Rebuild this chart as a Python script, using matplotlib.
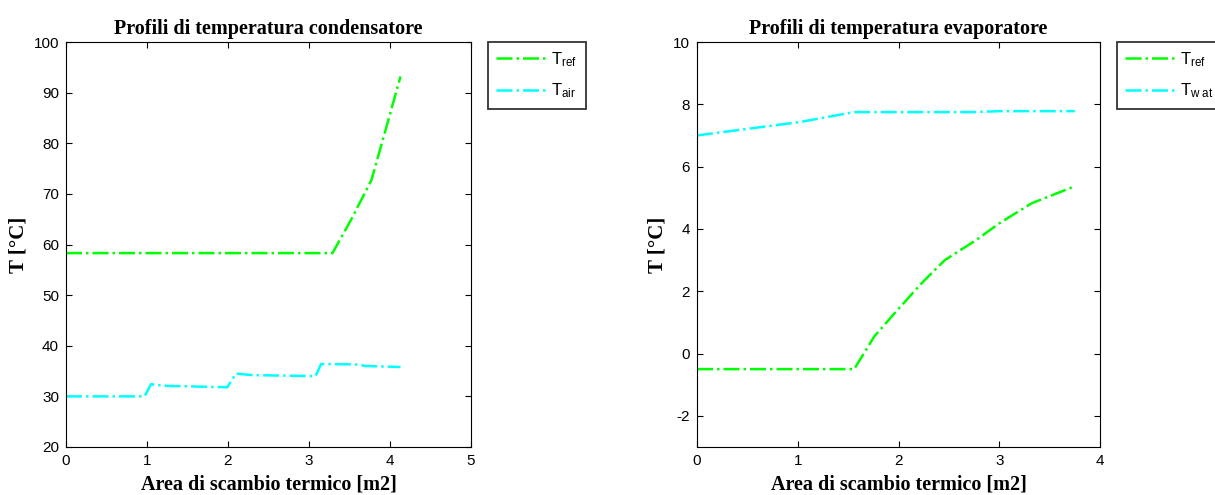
import matplotlib.pyplot as plt

# condensatore
cond_area_ref = [0, 1.0, 2.0, 3.0, 3.29, 3.53, 3.77, 3.91, 4.13]
cond_T_ref = [58.3, 58.3, 58.3, 58.3, 58.3, 65.2, 72.7, 80.6, 93.2]
cond_area_air = [0, 0.97, 1.05, 1.2, 1.99, 2.1, 2.3, 3.08, 3.15, 3.6, 3.7, 4.13]
cond_T_air = [30.0, 30.0, 32.4, 32.1, 31.8, 34.5, 34.2, 34.0, 36.4, 36.3, 36.0, 35.8]

# evaporatore
evap_area_ref = [0, 1.0, 1.56, 1.76, 1.99, 2.23, 2.46, 2.77, 3.0, 3.32, 3.75]
evap_T_ref = [-0.5, -0.5, -0.5, 0.55, 1.4, 2.26, 3.0, 3.64, 4.18, 4.82, 5.37]
evap_area_wat = [0, 0.59, 1.02, 1.56, 2.0, 2.75, 3.0, 3.75]
evap_T_wat = [7.0, 7.25, 7.43, 7.75, 7.75, 7.75, 7.78, 7.78]

plt.rcParams['font.family'] = 'Liberation Sans'
plt.rcParams['mathtext.fontset'] = 'custom'
plt.rcParams['mathtext.rm'] = 'Liberation Sans'
plt.rcParams['mathtext.it'] = 'Liberation Sans'
plt.rcParams['axes.unicode_minus'] = False

fig = plt.figure(figsize=(12.15, 4.95), dpi=100)
ax1 = fig.add_axes([66 / 1215, 48 / 495, 405 / 1215, 405 / 495])
ax2 = fig.add_axes([697 / 1215, 48 / 495, 403 / 1215, 405 / 495])

green = (0, 1, 0)
cyan = (0, 1, 1)
serif = {'family': 'Liberation Serif', 'weight': 'bold', 'size': 14.5}

def style(ax, title, xlim, ylim, xticks, yticks):
    ax.set_xlim(xlim)
    ax.set_ylim(ylim)
    ax.set_xticks(xticks)
    ax.set_yticks(yticks)
    ax.tick_params(direction='in', top=True, right=True, labelsize=11, length=4, pad=5)
    ax.set_title(title, fontdict=serif, pad=6)
    ax.set_xlabel('Area di scambio termico [m2]', fontdict=serif, labelpad=5)
    ax.set_ylabel('T [°C]', fontdict=dict(serif, size=15), labelpad=4)
    for s in ax.spines.values():
        s.set_linewidth(0.8)

ax1.plot(cond_area_ref, cond_T_ref, '-.', color=green, lw=1.8, label=r'T$_{\mathrm{ref}}$')
ax1.plot(cond_area_air, cond_T_air, '-.', color=cyan, lw=1.8, label=r'T$_{\mathrm{air}}$')
style(ax1, 'Profili di temperatura condensatore', (0, 5), (20, 100),
      range(0, 6), range(20, 101, 10))

ax2.plot(evap_area_ref, evap_T_ref, '-.', color=green, lw=1.8, label=r'T$_{\mathrm{ref}}$')
ax2.plot(evap_area_wat, evap_T_wat, '-.', color=cyan, lw=1.8, label=r'T$_{\mathrm{w\ at}}$')
style(ax2, 'Profili di temperatura evaporatore', (0, 4), (-3, 10),
      range(0, 5), range(-2, 11, 2))

for ax, x0 in [(ax1, 488 / 1215), (ax2, 1117 / 1215)]:
    leg = ax.legend(loc='upper left', bbox_to_anchor=(x0, 1 - 42 / 495),
                    bbox_transform=fig.transFigure, fancybox=False, shadow=False,
                    fontsize=12, handlelength=3.0, handletextpad=0.3,
                    borderpad=0.5, labelspacing=0.75, borderaxespad=0)
    leg.get_frame().set_edgecolor('black')
    leg.get_frame().set_linewidth(1.3)

fig.savefig('out.png', dpi=100)
